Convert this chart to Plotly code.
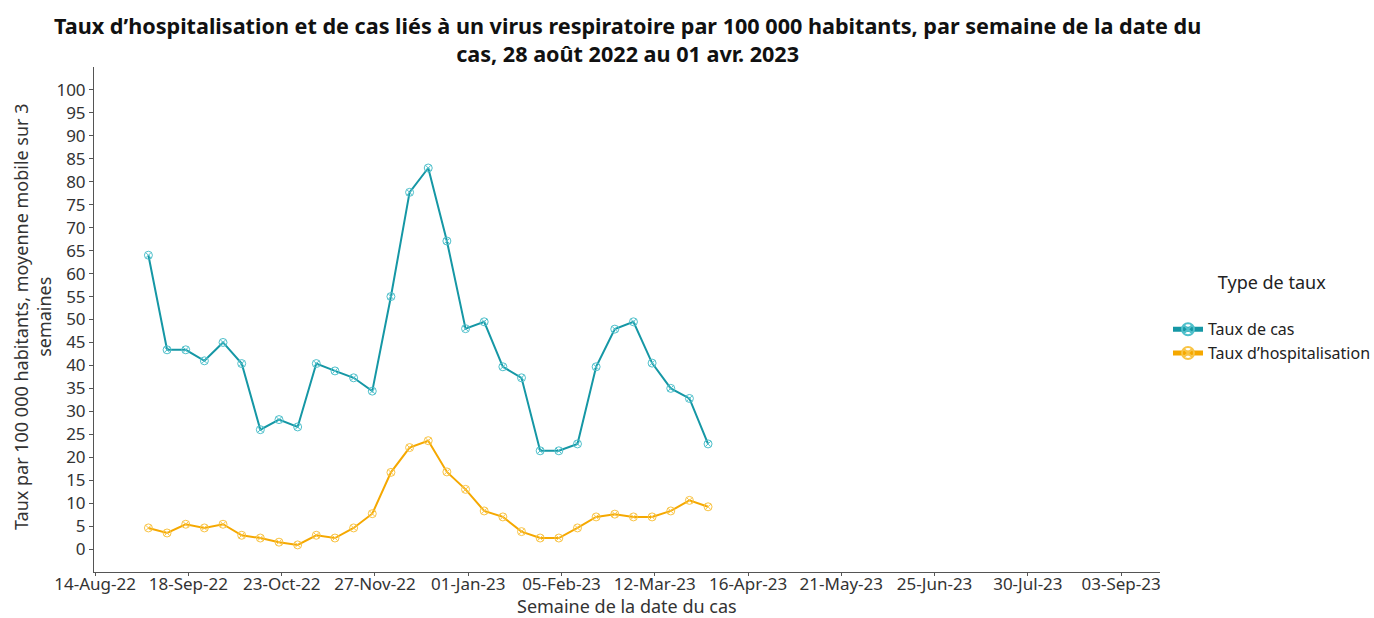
import plotly.graph_objects as go

weeks = ["2022-09-03", "2022-09-10", "2022-09-17", "2022-09-24", "2022-10-01", "2022-10-08",
         "2022-10-15", "2022-10-22", "2022-10-29", "2022-11-05", "2022-11-12", "2022-11-19",
         "2022-11-26", "2022-12-03", "2022-12-10", "2022-12-17", "2022-12-24", "2022-12-31",
         "2023-01-07", "2023-01-14", "2023-01-21", "2023-01-28", "2023-02-04", "2023-02-11",
         "2023-02-18", "2023-02-25", "2023-03-04", "2023-03-11", "2023-03-18", "2023-03-25",
         "2023-04-01"]

taux_cas = [64.0, 43.4, 43.4, 41.0, 45.0, 40.4, 26.0, 28.2, 26.6, 40.4, 38.8, 37.3,
            34.4, 55.0, 77.7, 83.0, 67.1, 48.0, 49.5, 39.7, 37.3, 21.4, 21.4, 22.9,
            39.7, 47.9, 49.5, 40.5, 35.0, 32.8, 22.9]

taux_hosp = [4.6, 3.5, 5.4, 4.6, 5.4, 3.0, 2.4, 1.5, 0.9, 3.0, 2.4, 4.6,
             7.7, 16.7, 22.1, 23.6, 16.8, 13.0, 8.3, 7.0, 3.8, 2.4, 2.4, 4.6,
             7.0, 7.6, 7.0, 7.0, 8.3, 10.6, 9.2]

y_ticks = list(range(0, 101, 5))

series_names = ["Taux de cas", "Taux d’hospitalisation"]
colors = ["#1597a5", "#f5a800"]
marker_colors = ["#4fc0cb", "#f9c445"]

FONT = "Noto Sans"
TITLE = ("<b>Taux d’hospitalisation et de cas liés à un virus respiratoire par 100 000 habitants, "
         "par semaine de la date du<br>cas, 28 août 2022 au 01 avr. 2023</b>")

fig = go.Figure()
for name, vals, c, mc in zip(series_names, [taux_cas, taux_hosp], colors, marker_colors):
    fig.add_trace(go.Scatter(
        x=weeks, y=vals, name=name, mode="lines+markers",
        line=dict(color=c, width=2),
        marker=dict(symbol="circle-x-open", size=8, color=mc, line=dict(width=1, color=mc)),
    ))

fig.update_layout(
    width=1374, height=618,
    paper_bgcolor="white", plot_bgcolor="white",
    font=dict(family=FONT, size=16, color="#333333"),
    margin=dict(l=94, r=214, t=67, b=46),
    legend=dict(
        xref="container", yref="container",
        x=1168 / 1374, xanchor="left", y=1 - 318 / 618, yanchor="middle",
        title=dict(text="Type de taux<br>", side="top center", font=dict(size=18, color="#222222")),
        font=dict(size=16, color="#222222"),
        tracegroupgap=0, itemsizing="constant", itemwidth=30,
    ),
    showlegend=True,
    annotations=[
        dict(text=TITLE, xref="paper", yref="paper", x=0.5, y=1 + (67 - 9) / 505,
             xanchor="center", yanchor="top", showarrow=False, align="center",
             font=dict(family=FONT, size=21.6, color="#111111")),
        dict(text="Semaine de la date du cas", xref="paper", yref="paper", x=0.5,
             y=-(606 - 572) / 505, xanchor="center", yanchor="middle", showarrow=False,
             font=dict(family=FONT, size=18, color="#333333")),
        dict(text="Taux par 100 000 habitants, moyenne mobile sur 3<br>semaines", xref="paper",
             yref="paper", x=-(94 - 32) / 1066, y=(572 - 317) / 505, xanchor="center",
             yanchor="middle", textangle=-90, showarrow=False, align="center",
             font=dict(family=FONT, size=18, color="#333333")),
    ],
)

fig.update_xaxes(
    type="date",
    range=["2022-08-13 14:00", "2023-09-17 14:00"],
    tick0="2022-08-14", dtick=35 * 86400000, tickformat="%d-%b-%y",
    showline=True, linecolor="#555555", linewidth=1,
    ticks="outside", ticklen=3, tickcolor="#555555",
    ticklabelstandoff=-6,
    showgrid=False, zeroline=False,
    tickfont=dict(size=17, color="#333333"),
    automargin=False,
)
fig.update_yaxes(
    range=[-5, 105], tickmode="array", tickvals=y_ticks,
    showline=True, linecolor="#555555", linewidth=1,
    ticks="outside", ticklen=4, tickcolor="#555555",
    showgrid=False, zeroline=False,
    tickfont=dict(size=17, color="#333333"),
    automargin=False,
)

fig.write_html("out.html", config={"displayModeBar": False},
               post_script="document.body.style.margin='0';document.body.style.overflow='hidden';")
